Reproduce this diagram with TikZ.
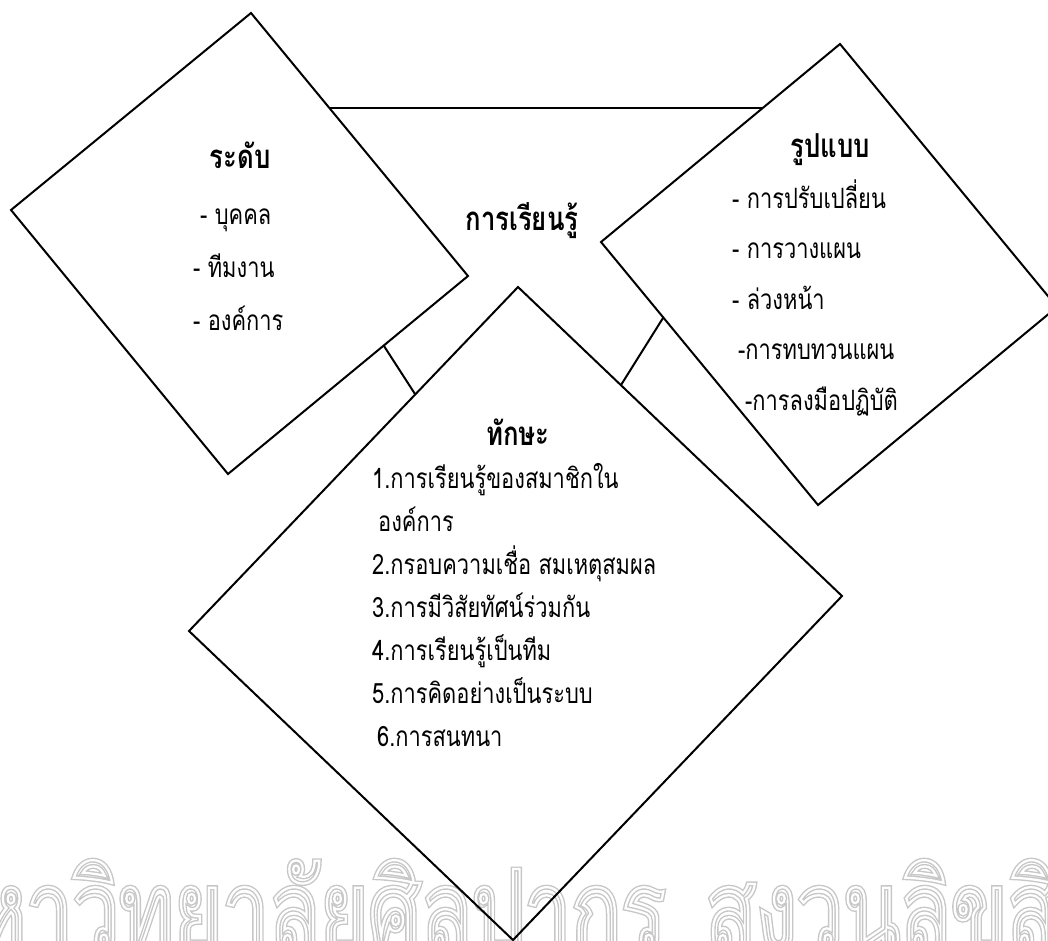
\documentclass[tikz,border=0pt]{standalone}
\usepackage{fontspec}
\newfontfamily\thaifont[Script=Thai,FakeStretch=0.78]{Loma}
\newfontfamily\wmfont[Script=Thai,FakeStretch=0.74]{Loma}
\newcommand\wmtext{มหาวิทยาลัยศิลปากร\hspace{40pt}สงวนลิขสิทธิ์}
\begin{document}
\begin{tikzpicture}[x=1pt,y=-1pt,
  edge/.style={line width=2pt, line join=miter},
  link/.style={line width=2pt},
  item/.style={anchor=base west, inner sep=0pt, font=\thaifont\fontsize{28}{30}\selectfont},
  ttl/.style={anchor=base, inner sep=0pt, font=\thaifont\bfseries\fontsize{33}{36}\selectfont},
  wm/.style={anchor=base, inner sep=0pt, font=\wmfont\fontsize{112}{120}\selectfont}]
\useasboundingbox (0,0) rectangle (1048,940);
\begin{scope}
\clip (0,0) rectangle (1048,940);
% watermark (double outline)
\node[wm, text=black!22] (water) at (540,950) {\special{pdf:literal direct 1 Tr 5 w}\wmtext\special{pdf:literal direct 0 Tr}};
\node[wm, text=white] (waterin) at (540,950) {\special{pdf:literal direct 1 Tr 2.2 w}\wmtext\special{pdf:literal direct 0 Tr}};
% diamond vertices
\coordinate (Lt) at (251,13);  \coordinate (Lr) at (468,276);
\coordinate (Lb) at (228,474); \coordinate (Ll) at (11,210);
\coordinate (Rt) at (840,44);  \coordinate (Rr) at (1057,307);
\coordinate (Rb) at (818,505); \coordinate (Rl) at (601,242);
\coordinate (Bt) at (518,287); \coordinate (Br) at (842,596);
\coordinate (Bb) at (513,940); \coordinate (Bl) at (189,631);
\draw[edge] (Lt) -- (Lr) -- (Lb) -- (Ll) -- cycle;
\draw[edge] (Rt) -- (Rr) -- (Rb) -- (Rl) -- cycle;
\draw[edge] (Bt) -- (Br) -- (Bb) -- (Bl) -- cycle;
% connectors
\coordinate (c1a) at (329,107.5); \coordinate (c1b) at (763,107.5);
\coordinate (c2a) at (384,346);   \coordinate (c2b) at (415,394);
\coordinate (c3a) at (621,385);   \coordinate (c3b) at (663,318);
\draw[link] (c1a) -- (c1b);
\draw[link] (c2a) -- (c2b);
\draw[link] (c3a) -- (c3b);
\end{scope}
% centre title
\node[ttl] (learn) at (522,230) {การเรียนรู้};
% left diamond
\node[ttl] (level) at (240,168) {ระดับ};
\node[item] (l1) at (200,224) {- บุคคล};
\node[item] (l2) at (193,277) {- ทีมงาน};
\node[item] (l3) at (193,330) {- องค์การ};
% right diamond
\node[ttl] (form) at (830,157) {รูปแบบ};
\node[item] (r1) at (732,208) {- การปรับเปลี่ยน};
\node[item] (r2) at (732,258) {- การวางแผน};
\node[item] (r3) at (732,309) {- ล่วงหน้า};
\node[item] (r4) at (738,359) {-การทบทวนแผน};
\node[item] (r5) at (745,410) {-การลงมือปฏิบัติ};
% bottom diamond
\node[ttl] (skill) at (518,445) {ทักษะ};
\node[item] (b1) at (372,488) {1.การเรียนรู้ของสมาชิกใน};
\node[item] (b1b) at (378,531) {องค์การ};
\node[item] (b2) at (372,574) {2.กรอบความเชื่อ สมเหตุสมผล};
\node[item] (b3) at (372,617) {3.การมีวิสัยทัศน์ร่วมกัน};
\node[item] (b4) at (372,660) {4.การเรียนรู้เป็นทีม};
\node[item] (b5) at (372,703) {5.การคิดอย่างเป็นระบบ};
\node[item] (b6) at (377,746) {6.การสนทนา};
\end{tikzpicture}
\end{document}
